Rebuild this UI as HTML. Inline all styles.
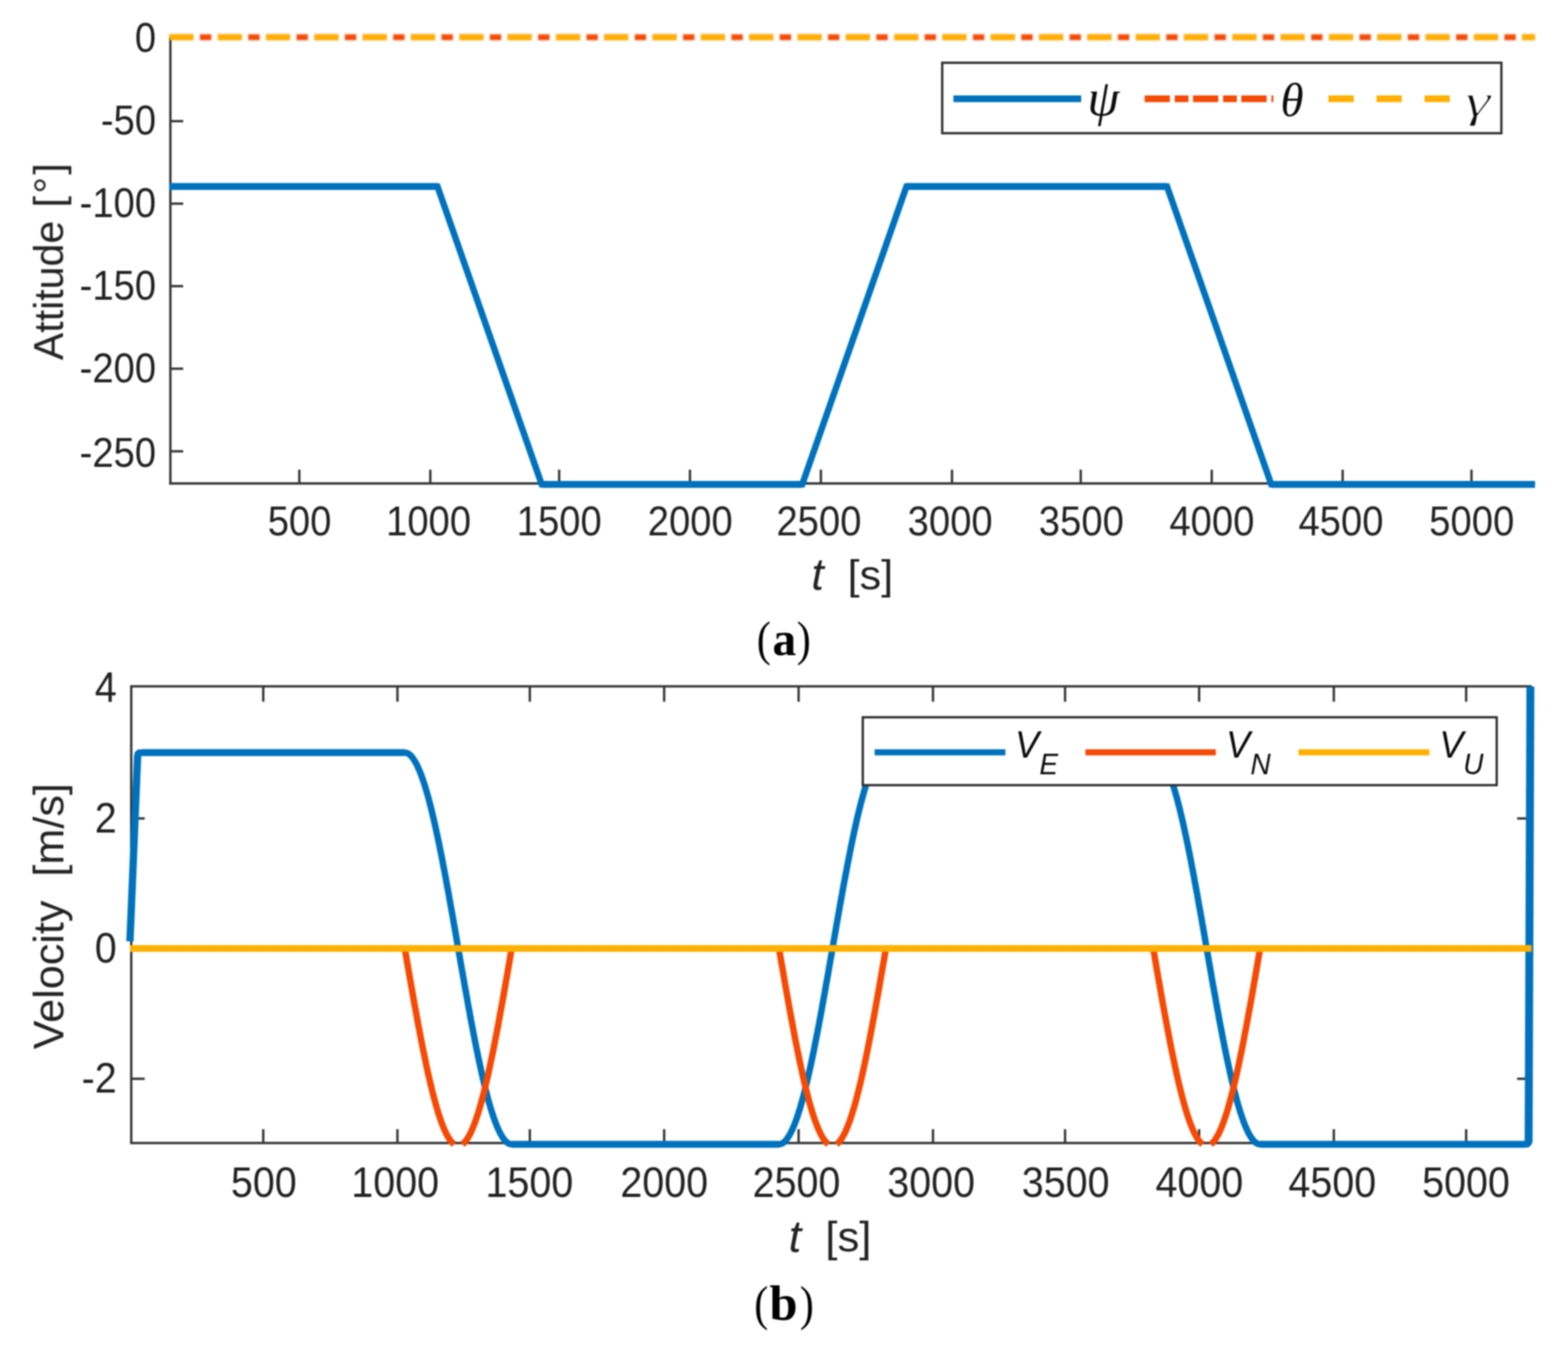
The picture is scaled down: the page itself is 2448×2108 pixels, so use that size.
<!DOCTYPE html>
<html lang="en"><head><meta charset="utf-8"><title>Attitude and velocity profiles</title>
<style>
html,body{margin:0;padding:0;background:#fff;}
body{width:2448px;height:2108px;overflow:hidden;}
svg{display:block;}
#fig{filter:blur(0.8px);}
</style></head>
<body>
<svg width="2448" height="2108" viewBox="0 0 2448 2108">
<rect x="0" y="0" width="2448" height="2108" fill="#ffffff"/>
<g id="fig">
<g id="chart-a">
<line x1="266.00" y1="58.00" x2="266.00" y2="756.75" stroke="#363636" stroke-width="3.7" />
<line x1="264.15" y1="754.90" x2="2396.30" y2="754.90" stroke="#363636" stroke-width="3.7" />
<text transform="translate(243.69,80.88) scale(0.9280,1)" font-family="'Liberation Sans', sans-serif" font-size="64.3" text-anchor="end" fill="#222222" >0</text>
<line x1="266.00" y1="189.20" x2="286.00" y2="189.20" stroke="#363636" stroke-width="3.7" />
<text transform="translate(243.69,210.48) scale(0.9280,1)" font-family="'Liberation Sans', sans-serif" font-size="64.3" text-anchor="end" fill="#222222" >-50</text>
<line x1="266.00" y1="318.00" x2="286.00" y2="318.00" stroke="#363636" stroke-width="3.7" />
<text transform="translate(243.69,338.58) scale(0.9280,1)" font-family="'Liberation Sans', sans-serif" font-size="64.3" text-anchor="end" fill="#222222" >-100</text>
<line x1="266.00" y1="446.80" x2="286.00" y2="446.80" stroke="#363636" stroke-width="3.7" />
<text transform="translate(243.69,468.48) scale(0.9280,1)" font-family="'Liberation Sans', sans-serif" font-size="64.3" text-anchor="end" fill="#222222" >-150</text>
<line x1="266.00" y1="575.70" x2="286.00" y2="575.70" stroke="#363636" stroke-width="3.7" />
<text transform="translate(243.69,596.88) scale(0.9280,1)" font-family="'Liberation Sans', sans-serif" font-size="64.3" text-anchor="end" fill="#222222" >-200</text>
<line x1="266.00" y1="704.70" x2="286.00" y2="704.70" stroke="#363636" stroke-width="3.7" />
<text transform="translate(243.69,728.78) scale(0.9280,1)" font-family="'Liberation Sans', sans-serif" font-size="64.3" text-anchor="end" fill="#222222" >-250</text>
<line x1="467.30" y1="754.90" x2="467.30" y2="733.40" stroke="#363636" stroke-width="3.7" />
<text transform="translate(467.70,836.38) scale(0.9280,1)" font-family="'Liberation Sans', sans-serif" font-size="64.3" text-anchor="middle" fill="#222222" >500</text>
<line x1="671.80" y1="754.90" x2="671.80" y2="733.40" stroke="#363636" stroke-width="3.7" />
<text transform="translate(669.10,836.38) scale(0.9280,1)" font-family="'Liberation Sans', sans-serif" font-size="64.3" text-anchor="middle" fill="#222222" >1000</text>
<line x1="873.00" y1="754.90" x2="873.00" y2="733.40" stroke="#363636" stroke-width="3.7" />
<text transform="translate(873.10,836.38) scale(0.9280,1)" font-family="'Liberation Sans', sans-serif" font-size="64.3" text-anchor="middle" fill="#222222" >1500</text>
<line x1="1077.20" y1="754.90" x2="1077.20" y2="733.40" stroke="#363636" stroke-width="3.7" />
<text transform="translate(1077.60,836.38) scale(0.9280,1)" font-family="'Liberation Sans', sans-serif" font-size="64.3" text-anchor="middle" fill="#222222" >2000</text>
<line x1="1281.60" y1="754.90" x2="1281.60" y2="733.40" stroke="#363636" stroke-width="3.7" />
<text transform="translate(1278.50,836.38) scale(0.9280,1)" font-family="'Liberation Sans', sans-serif" font-size="64.3" text-anchor="middle" fill="#222222" >2500</text>
<line x1="1486.30" y1="754.90" x2="1486.30" y2="733.40" stroke="#363636" stroke-width="3.7" />
<text transform="translate(1483.40,836.38) scale(0.9280,1)" font-family="'Liberation Sans', sans-serif" font-size="64.3" text-anchor="middle" fill="#222222" >3000</text>
<line x1="1687.30" y1="754.90" x2="1687.30" y2="733.40" stroke="#363636" stroke-width="3.7" />
<text transform="translate(1688.20,836.38) scale(0.9280,1)" font-family="'Liberation Sans', sans-serif" font-size="64.3" text-anchor="middle" fill="#222222" >3500</text>
<line x1="1891.80" y1="754.90" x2="1891.80" y2="733.40" stroke="#363636" stroke-width="3.7" />
<text transform="translate(1892.00,836.38) scale(0.9280,1)" font-family="'Liberation Sans', sans-serif" font-size="64.3" text-anchor="middle" fill="#222222" >4000</text>
<line x1="2096.20" y1="754.90" x2="2096.20" y2="733.40" stroke="#363636" stroke-width="3.7" />
<text transform="translate(2093.50,836.38) scale(0.9280,1)" font-family="'Liberation Sans', sans-serif" font-size="64.3" text-anchor="middle" fill="#222222" >4500</text>
<line x1="2297.30" y1="754.90" x2="2297.30" y2="733.40" stroke="#363636" stroke-width="3.7" />
<text transform="translate(2297.70,836.38) scale(0.9280,1)" font-family="'Liberation Sans', sans-serif" font-size="64.3" text-anchor="middle" fill="#222222" >5000</text>
<polyline fill="none" stroke="#0072BD" stroke-width="10.1" stroke-linejoin="miter"  points="264.0,291.2 683.0,291.2 845.7,756.3 1252.5,756.3 1415.2,291.2 1822.0,291.2 1984.7,756.3 2396.3,756.3"/>
<line x1="264.00" y1="291.16" x2="682.98" y2="291.16" stroke="#0072BD" stroke-width="10.7" />
<line x1="845.70" y1="756.28" x2="1252.48" y2="756.28" stroke="#0072BD" stroke-width="10.7" />
<line x1="1415.19" y1="291.16" x2="1821.97" y2="291.16" stroke="#0072BD" stroke-width="10.7" />
<line x1="1984.68" y1="756.28" x2="2396.30" y2="756.28" stroke="#0072BD" stroke-width="10.7" />
<g style="filter:blur(1.3px)">
<line x1="264.5" y1="58.1" x2="2396.3" y2="58.1" stroke="#F54A05" stroke-width="9.4" stroke-dasharray="37.6 10.0 17.8 10.03" stroke-dashoffset="0"/>
<line x1="264.5" y1="58.1" x2="2396.3" y2="58.1" stroke="#FFB000" stroke-width="9.4" stroke-dasharray="37.6 37.83"/>
</g>
<rect x="1471" y="98" width="873" height="110" fill="#fff" stroke="#2e2e2e" stroke-width="3.6"/>
<line x1="1488.50" y1="154.20" x2="1688.00" y2="154.20" stroke="#0072BD" stroke-width="10.4" />
<line x1="1787" y1="154.2" x2="1988" y2="154.2" stroke="#F54A05" stroke-width="10.4" stroke-dasharray="39.5 7.5 21.5 7"/>
<line x1="2074" y1="154.2" x2="2264" y2="154.2" stroke="#FFB000" stroke-width="10.4" stroke-dasharray="39.5 35.5"/>
<text transform="translate(1697.70,179.50)" font-family="'Liberation Serif', serif" font-size="80" font-style="italic" text-anchor="start" fill="#0c0c0c" >ψ</text>
<text transform="translate(1999.35,181.00)" font-family="'Liberation Serif', serif" font-size="73" font-style="italic" text-anchor="start" fill="#0c0c0c" >θ</text>
<text transform="translate(2287.18,181.80) scale(1.4000,1)" font-family="'Liberation Serif', serif" font-size="72" font-style="italic" text-anchor="start" fill="#0c0c0c" stroke="#fff" stroke-width="1.7" >γ</text>
<text transform="translate(98.3,344.6) rotate(-90)" font-family="'Liberation Sans', sans-serif" fill="#222222"><tspan x="-217.78" y="0.00" font-size="65.4" textLength="217.78" lengthAdjust="spacingAndGlyphs">Attitude</tspan><tspan x="-0.96" y="0.00" font-size="65.4" letter-spacing="3.4"> [°]</tspan></text>
<text font-family="'Liberation Sans', sans-serif" fill="#222222"><tspan x="1266.85" y="920.50" font-size="70" font-style="italic">t </tspan><tspan x="1323.28" y="920.00" font-size="65.4" textLength="71.11" lengthAdjust="spacingAndGlyphs">[s]</tspan></text>
<text font-family="'Liberation Serif', serif" fill="#000"><tspan x="1181.44" y="1023.00" font-size="75.5" textLength="21.87" lengthAdjust="spacingAndGlyphs">(</tspan><tspan x="1206.08" y="1022.60" font-size="74" font-weight="bold">a</tspan><tspan x="1244.03" y="1023.00" font-size="75.5" textLength="21.87" lengthAdjust="spacingAndGlyphs">)</tspan></text>
</g>
<g id="chart-b">
<rect x="204.9" y="1071.7" width="2184.7" height="713.0999999999999" fill="none" stroke="#363636" stroke-width="3.7"/>
<text transform="translate(182.26,1096.24) scale(0.9260,1)" font-family="'Liberation Sans', sans-serif" font-size="66.5" text-anchor="end" fill="#222222" >4</text>
<line x1="204.90" y1="1278.00" x2="225.90" y2="1278.00" stroke="#363636" stroke-width="3.7" />
<line x1="2389.60" y1="1278.00" x2="2368.60" y2="1278.00" stroke="#363636" stroke-width="3.7" />
<text transform="translate(182.26,1299.94) scale(0.9260,1)" font-family="'Liberation Sans', sans-serif" font-size="66.5" text-anchor="end" fill="#222222" >2</text>
<line x1="204.90" y1="1481.00" x2="225.90" y2="1481.00" stroke="#363636" stroke-width="3.7" />
<line x1="2389.60" y1="1481.00" x2="2368.60" y2="1481.00" stroke="#363636" stroke-width="3.7" />
<text transform="translate(182.26,1503.34) scale(0.9260,1)" font-family="'Liberation Sans', sans-serif" font-size="66.5" text-anchor="end" fill="#222222" >0</text>
<line x1="204.90" y1="1684.50" x2="225.90" y2="1684.50" stroke="#363636" stroke-width="3.7" />
<line x1="2389.60" y1="1684.50" x2="2368.60" y2="1684.50" stroke="#363636" stroke-width="3.7" />
<text transform="translate(182.26,1705.74) scale(0.9260,1)" font-family="'Liberation Sans', sans-serif" font-size="66.5" text-anchor="end" fill="#222222" >-2</text>
<line x1="411.00" y1="1784.80" x2="411.00" y2="1763.20" stroke="#363636" stroke-width="3.7" />
<line x1="411.00" y1="1071.70" x2="411.00" y2="1095.70" stroke="#363636" stroke-width="3.7" />
<text transform="translate(411.90,1868.54) scale(0.9260,1)" font-family="'Liberation Sans', sans-serif" font-size="66.5" text-anchor="middle" fill="#222222" >500</text>
<line x1="620.50" y1="1784.80" x2="620.50" y2="1763.20" stroke="#363636" stroke-width="3.7" />
<line x1="620.50" y1="1071.70" x2="620.50" y2="1095.70" stroke="#363636" stroke-width="3.7" />
<text transform="translate(616.90,1868.54) scale(0.9260,1)" font-family="'Liberation Sans', sans-serif" font-size="66.5" text-anchor="middle" fill="#222222" >1000</text>
<line x1="827.20" y1="1784.80" x2="827.20" y2="1763.20" stroke="#363636" stroke-width="3.7" />
<line x1="827.20" y1="1071.70" x2="827.20" y2="1095.70" stroke="#363636" stroke-width="3.7" />
<text transform="translate(826.50,1868.54) scale(0.9260,1)" font-family="'Liberation Sans', sans-serif" font-size="66.5" text-anchor="middle" fill="#222222" >1500</text>
<line x1="1036.90" y1="1784.80" x2="1036.90" y2="1763.20" stroke="#363636" stroke-width="3.7" />
<line x1="1036.90" y1="1071.70" x2="1036.90" y2="1095.70" stroke="#363636" stroke-width="3.7" />
<text transform="translate(1037.10,1868.54) scale(0.9260,1)" font-family="'Liberation Sans', sans-serif" font-size="66.5" text-anchor="middle" fill="#222222" >2000</text>
<line x1="1246.80" y1="1784.80" x2="1246.80" y2="1763.20" stroke="#363636" stroke-width="3.7" />
<line x1="1246.80" y1="1071.70" x2="1246.80" y2="1095.70" stroke="#363636" stroke-width="3.7" />
<text transform="translate(1243.50,1868.54) scale(0.9260,1)" font-family="'Liberation Sans', sans-serif" font-size="66.5" text-anchor="middle" fill="#222222" >2500</text>
<line x1="1456.60" y1="1784.80" x2="1456.60" y2="1763.20" stroke="#363636" stroke-width="3.7" />
<line x1="1456.60" y1="1071.70" x2="1456.60" y2="1095.70" stroke="#363636" stroke-width="3.7" />
<text transform="translate(1453.80,1868.54) scale(0.9260,1)" font-family="'Liberation Sans', sans-serif" font-size="66.5" text-anchor="middle" fill="#222222" >3000</text>
<line x1="1662.80" y1="1784.80" x2="1662.80" y2="1763.20" stroke="#363636" stroke-width="3.7" />
<line x1="1662.80" y1="1071.70" x2="1662.80" y2="1095.70" stroke="#363636" stroke-width="3.7" />
<text transform="translate(1663.70,1868.54) scale(0.9260,1)" font-family="'Liberation Sans', sans-serif" font-size="66.5" text-anchor="middle" fill="#222222" >3500</text>
<line x1="1872.10" y1="1784.80" x2="1872.10" y2="1763.20" stroke="#363636" stroke-width="3.7" />
<line x1="1872.10" y1="1071.70" x2="1872.10" y2="1095.70" stroke="#363636" stroke-width="3.7" />
<text transform="translate(1872.60,1868.54) scale(0.9260,1)" font-family="'Liberation Sans', sans-serif" font-size="66.5" text-anchor="middle" fill="#222222" >4000</text>
<line x1="2082.40" y1="1784.80" x2="2082.40" y2="1763.20" stroke="#363636" stroke-width="3.7" />
<line x1="2082.40" y1="1071.70" x2="2082.40" y2="1095.70" stroke="#363636" stroke-width="3.7" />
<text transform="translate(2079.90,1868.54) scale(0.9260,1)" font-family="'Liberation Sans', sans-serif" font-size="66.5" text-anchor="middle" fill="#222222" >4500</text>
<line x1="2289.00" y1="1784.80" x2="2289.00" y2="1763.20" stroke="#363636" stroke-width="3.7" />
<line x1="2289.00" y1="1071.70" x2="2289.00" y2="1095.70" stroke="#363636" stroke-width="3.7" />
<text transform="translate(2288.70,1868.54) scale(0.9260,1)" font-family="'Liberation Sans', sans-serif" font-size="66.5" text-anchor="middle" fill="#222222" >5000</text>
<polyline fill="none" stroke="#0072BD" stroke-width="10.1" stroke-linejoin="bevel"  points="202.9,1469.7 215.1,1175.2 631.9,1175.2 633.6,1175.4 635.3,1175.8 636.9,1176.6 638.6,1177.6 640.3,1179.0 642.0,1180.6 643.6,1182.6 645.3,1184.8 647.0,1187.4 648.6,1190.2 650.3,1193.3 652.0,1196.7 653.6,1200.4 655.3,1204.3 657.0,1208.5 658.6,1213.0 660.3,1217.8 662.0,1222.8 663.7,1228.1 665.3,1233.6 667.0,1239.4 668.7,1245.4 670.3,1251.6 672.0,1258.1 673.7,1264.8 675.3,1271.7 677.0,1278.8 678.7,1286.1 680.3,1293.6 682.0,1301.3 683.7,1309.1 685.4,1317.1 687.0,1325.3 688.7,1333.7 690.4,1342.2 692.0,1350.8 693.7,1359.6 695.4,1368.4 697.0,1377.4 698.7,1386.5 700.4,1395.7 702.0,1405.0 703.7,1414.3 705.4,1423.7 707.1,1433.2 708.7,1442.7 710.4,1452.2 712.1,1461.8 713.7,1471.4 715.4,1481.0 717.1,1490.6 718.7,1500.2 720.4,1509.8 722.1,1519.3 723.8,1528.8 725.4,1538.3 727.1,1547.7 728.8,1557.0 730.4,1566.3 732.1,1575.5 733.8,1584.6 735.4,1593.6 737.1,1602.4 738.8,1611.2 740.4,1619.8 742.1,1628.3 743.8,1636.7 745.5,1644.9 747.1,1652.9 748.8,1660.7 750.5,1668.4 752.1,1675.9 753.8,1683.2 755.5,1690.3 757.1,1697.2 758.8,1703.9 760.5,1710.4 762.1,1716.6 763.8,1722.6 765.5,1728.4 767.2,1733.9 768.8,1739.2 770.5,1744.2 772.2,1749.0 773.8,1753.5 775.5,1757.7 777.2,1761.6 778.8,1765.3 780.5,1768.7 782.2,1771.8 783.8,1774.6 785.5,1777.2 787.2,1779.4 788.9,1781.4 790.5,1783.0 792.2,1784.4 793.9,1785.4 795.5,1786.2 797.2,1786.6 798.9,1786.8 1216.2,1786.8 1217.9,1786.6 1219.5,1786.2 1221.2,1785.4 1222.9,1784.4 1224.5,1783.0 1226.2,1781.4 1227.9,1779.4 1229.5,1777.2 1231.2,1774.6 1232.9,1771.8 1234.5,1768.7 1236.2,1765.3 1237.9,1761.6 1239.6,1757.7 1241.2,1753.5 1242.9,1749.0 1244.6,1744.2 1246.2,1739.2 1247.9,1733.9 1249.6,1728.4 1251.2,1722.6 1252.9,1716.6 1254.6,1710.4 1256.3,1703.9 1257.9,1697.2 1259.6,1690.3 1261.3,1683.2 1262.9,1675.9 1264.6,1668.4 1266.3,1660.7 1267.9,1652.9 1269.6,1644.9 1271.3,1636.7 1272.9,1628.3 1274.6,1619.8 1276.3,1611.2 1278.0,1602.4 1279.6,1593.6 1281.3,1584.6 1283.0,1575.5 1284.6,1566.3 1286.3,1557.0 1288.0,1547.7 1289.6,1538.3 1291.3,1528.8 1293.0,1519.3 1294.6,1509.8 1296.3,1500.2 1298.0,1490.6 1299.7,1481.0 1301.3,1471.4 1303.0,1461.8 1304.7,1452.2 1306.3,1442.7 1308.0,1433.2 1309.7,1423.7 1311.3,1414.3 1313.0,1405.0 1314.7,1395.7 1316.3,1386.5 1318.0,1377.4 1319.7,1368.4 1321.4,1359.6 1323.0,1350.8 1324.7,1342.2 1326.4,1333.7 1328.0,1325.3 1329.7,1317.1 1331.4,1309.1 1333.0,1301.3 1334.7,1293.6 1336.4,1286.1 1338.0,1278.8 1339.7,1271.7 1341.4,1264.8 1343.1,1258.1 1344.7,1251.6 1346.4,1245.4 1348.1,1239.4 1349.7,1233.6 1351.4,1228.1 1353.1,1222.8 1354.7,1217.8 1356.4,1213.0 1358.1,1208.5 1359.7,1204.3 1361.4,1200.4 1363.1,1196.7 1364.8,1193.3 1366.4,1190.2 1368.1,1187.4 1369.8,1184.8 1371.4,1182.6 1373.1,1180.6 1374.8,1179.0 1376.4,1177.6 1378.1,1176.6 1379.8,1175.8 1381.4,1175.4 1383.1,1175.2 1800.4,1175.2 1802.1,1175.4 1803.8,1175.8 1805.4,1176.6 1807.1,1177.6 1808.8,1179.0 1810.5,1180.6 1812.1,1182.6 1813.8,1184.8 1815.5,1187.4 1817.1,1190.2 1818.8,1193.3 1820.5,1196.7 1822.1,1200.4 1823.8,1204.3 1825.5,1208.5 1827.1,1213.0 1828.8,1217.8 1830.5,1222.8 1832.2,1228.1 1833.8,1233.6 1835.5,1239.4 1837.2,1245.4 1838.8,1251.6 1840.5,1258.1 1842.2,1264.8 1843.8,1271.7 1845.5,1278.8 1847.2,1286.1 1848.8,1293.6 1850.5,1301.3 1852.2,1309.1 1853.9,1317.1 1855.5,1325.3 1857.2,1333.7 1858.9,1342.2 1860.5,1350.8 1862.2,1359.6 1863.9,1368.4 1865.5,1377.4 1867.2,1386.5 1868.9,1395.7 1870.5,1405.0 1872.2,1414.3 1873.9,1423.7 1875.6,1433.2 1877.2,1442.7 1878.9,1452.2 1880.6,1461.8 1882.2,1471.4 1883.9,1481.0 1885.6,1490.6 1887.2,1500.2 1888.9,1509.8 1890.6,1519.3 1892.2,1528.8 1893.9,1538.3 1895.6,1547.7 1897.3,1557.0 1898.9,1566.3 1900.6,1575.5 1902.3,1584.6 1903.9,1593.6 1905.6,1602.4 1907.3,1611.2 1908.9,1619.8 1910.6,1628.3 1912.3,1636.7 1913.9,1644.9 1915.6,1652.9 1917.3,1660.7 1919.0,1668.4 1920.6,1675.9 1922.3,1683.2 1924.0,1690.3 1925.6,1697.2 1927.3,1703.9 1929.0,1710.4 1930.6,1716.6 1932.3,1722.6 1934.0,1728.4 1935.6,1733.9 1937.3,1739.2 1939.0,1744.2 1940.7,1749.0 1942.3,1753.5 1944.0,1757.7 1945.7,1761.6 1947.3,1765.3 1949.0,1768.7 1950.7,1771.8 1952.3,1774.6 1954.0,1777.2 1955.7,1779.4 1957.3,1781.4 1959.0,1783.0 1960.7,1784.4 1962.4,1785.4 1964.0,1786.2 1965.7,1786.6 1967.4,1786.8 2386.5,1786.8 2389.3,1072.0"/>
<line x1="2386.50" y1="1783.79" x2="2389.30" y2="1072.00" stroke="#0072BD" stroke-width="12.4" />
<line x1="202.90" y1="1469.70" x2="214.90" y2="1179.21" stroke="#0072BD" stroke-width="11.4" />
<line x1="221.10" y1="1175.21" x2="631.94" y2="1175.21" stroke="#0072BD" stroke-width="10.7" />
<line x1="798.87" y1="1786.79" x2="1216.19" y2="1786.79" stroke="#0072BD" stroke-width="10.7" />
<line x1="1383.12" y1="1175.21" x2="1800.44" y2="1175.21" stroke="#0072BD" stroke-width="10.7" />
<line x1="1967.36" y1="1786.79" x2="2381.50" y2="1786.79" stroke="#0072BD" stroke-width="10.7" />
<polyline fill="none" stroke="#F54A05" stroke-width="10.1" stroke-linejoin="round"  points="631.9,1481.0 633.9,1492.2 635.8,1503.3 637.7,1514.4 639.6,1525.5 641.6,1536.5 643.5,1547.5 645.4,1558.3 647.3,1569.1 649.3,1579.7 651.2,1590.2 653.1,1600.6 655.1,1610.8 657.0,1620.9 658.9,1630.7 660.8,1640.4 662.8,1649.8 664.7,1659.0 666.6,1668.0 668.5,1676.8 670.5,1685.3 672.4,1693.5 674.3,1701.4 676.2,1709.1 678.2,1716.4 680.1,1723.5 682.0,1730.2 683.9,1736.6 685.9,1742.7 687.8,1748.4 689.7,1753.8 691.7,1758.8 693.6,1763.4 695.5,1767.7 697.4,1771.6 699.4,1775.1 701.3,1778.2 703.2,1781.0 705.1,1783.3 707.1,1785.2 709.0,1786.8"/>
<polyline fill="none" stroke="#F54A05" stroke-width="10.1" stroke-linejoin="round"  points="721.8,1786.8 723.7,1785.2 725.7,1783.3 727.6,1781.0 729.5,1778.2 731.5,1775.1 733.4,1771.6 735.3,1767.7 737.2,1763.4 739.2,1758.8 741.1,1753.8 743.0,1748.4 744.9,1742.7 746.9,1736.6 748.8,1730.2 750.7,1723.5 752.6,1716.4 754.6,1709.1 756.5,1701.4 758.4,1693.5 760.3,1685.3 762.3,1676.8 764.2,1668.0 766.1,1659.0 768.0,1649.8 770.0,1640.4 771.9,1630.7 773.8,1620.9 775.8,1610.8 777.7,1600.6 779.6,1590.2 781.5,1579.7 783.5,1569.1 785.4,1558.3 787.3,1547.5 789.2,1536.5 791.2,1525.5 793.1,1514.4 795.0,1503.3 796.9,1492.2 798.9,1481.0"/>
<polyline fill="none" stroke="#F54A05" stroke-width="10.1" stroke-linejoin="round"  points="1216.2,1481.0 1218.1,1492.2 1220.0,1503.3 1222.0,1514.4 1223.9,1525.5 1225.8,1536.5 1227.7,1547.5 1229.7,1558.3 1231.6,1569.1 1233.5,1579.7 1235.4,1590.2 1237.4,1600.6 1239.3,1610.8 1241.2,1620.9 1243.2,1630.7 1245.1,1640.4 1247.0,1649.8 1248.9,1659.0 1250.9,1668.0 1252.8,1676.8 1254.7,1685.3 1256.6,1693.5 1258.6,1701.4 1260.5,1709.1 1262.4,1716.4 1264.3,1723.5 1266.3,1730.2 1268.2,1736.6 1270.1,1742.7 1272.0,1748.4 1274.0,1753.8 1275.9,1758.8 1277.8,1763.4 1279.8,1767.7 1281.7,1771.6 1283.6,1775.1 1285.5,1778.2 1287.5,1781.0 1289.4,1783.3 1291.3,1785.2 1293.2,1786.8"/>
<polyline fill="none" stroke="#F54A05" stroke-width="10.1" stroke-linejoin="round"  points="1306.1,1786.8 1308.0,1785.2 1309.9,1783.3 1311.8,1781.0 1313.8,1778.2 1315.7,1775.1 1317.6,1771.6 1319.6,1767.7 1321.5,1763.4 1323.4,1758.8 1325.3,1753.8 1327.3,1748.4 1329.2,1742.7 1331.1,1736.6 1333.0,1730.2 1335.0,1723.5 1336.9,1716.4 1338.8,1709.1 1340.7,1701.4 1342.7,1693.5 1344.6,1685.3 1346.5,1676.8 1348.4,1668.0 1350.4,1659.0 1352.3,1649.8 1354.2,1640.4 1356.1,1630.7 1358.1,1620.9 1360.0,1610.8 1361.9,1600.6 1363.9,1590.2 1365.8,1579.7 1367.7,1569.1 1369.6,1558.3 1371.6,1547.5 1373.5,1536.5 1375.4,1525.5 1377.3,1514.4 1379.3,1503.3 1381.2,1492.2 1383.1,1481.0"/>
<polyline fill="none" stroke="#F54A05" stroke-width="10.1" stroke-linejoin="round"  points="1800.4,1481.0 1802.4,1492.2 1804.3,1503.3 1806.2,1514.4 1808.1,1525.5 1810.1,1536.5 1812.0,1547.5 1813.9,1558.3 1815.8,1569.1 1817.8,1579.7 1819.7,1590.2 1821.6,1600.6 1823.6,1610.8 1825.5,1620.9 1827.4,1630.7 1829.3,1640.4 1831.3,1649.8 1833.2,1659.0 1835.1,1668.0 1837.0,1676.8 1839.0,1685.3 1840.9,1693.5 1842.8,1701.4 1844.7,1709.1 1846.7,1716.4 1848.6,1723.5 1850.5,1730.2 1852.4,1736.6 1854.4,1742.7 1856.3,1748.4 1858.2,1753.8 1860.1,1758.8 1862.1,1763.4 1864.0,1767.7 1865.9,1771.6 1867.9,1775.1 1869.8,1778.2 1871.7,1781.0 1873.6,1783.3 1875.6,1785.2 1877.5,1786.8"/>
<polyline fill="none" stroke="#F54A05" stroke-width="10.1" stroke-linejoin="round"  points="1890.3,1786.8 1892.2,1785.2 1894.2,1783.3 1896.1,1781.0 1898.0,1778.2 1899.9,1775.1 1901.9,1771.6 1903.8,1767.7 1905.7,1763.4 1907.7,1758.8 1909.6,1753.8 1911.5,1748.4 1913.4,1742.7 1915.4,1736.6 1917.3,1730.2 1919.2,1723.5 1921.1,1716.4 1923.1,1709.1 1925.0,1701.4 1926.9,1693.5 1928.8,1685.3 1930.8,1676.8 1932.7,1668.0 1934.6,1659.0 1936.5,1649.8 1938.5,1640.4 1940.4,1630.7 1942.3,1620.9 1944.2,1610.8 1946.2,1600.6 1948.1,1590.2 1950.0,1579.7 1952.0,1569.1 1953.9,1558.3 1955.8,1547.5 1957.7,1536.5 1959.7,1525.5 1961.6,1514.4 1963.5,1503.3 1965.4,1492.2 1967.4,1481.0"/>
<line x1="203.00" y1="1481.00" x2="2391.00" y2="1481.00" stroke="#FFB000" stroke-width="10.7" />
<rect x="1347" y="1120" width="989.6999999999998" height="106" fill="#fff" stroke="#2e2e2e" stroke-width="3.6"/>
<line x1="1365.50" y1="1174.70" x2="1569.70" y2="1174.70" stroke="#0072BD" stroke-width="9.5" />
<line x1="1694.60" y1="1174.70" x2="1898.20" y2="1174.70" stroke="#F54A05" stroke-width="9.5" />
<line x1="2027.20" y1="1174.70" x2="2231.50" y2="1174.70" stroke="#FFB000" stroke-width="9.5" />
<text font-family="'Liberation Sans', sans-serif" fill="#0c0c0c"><tspan x="1584.84" y="1183.00" font-size="59" font-style="italic" textLength="37.39" lengthAdjust="spacingAndGlyphs">V</tspan><tspan x="1622.80" y="1209.30" font-size="46" font-style="italic" textLength="29.15" lengthAdjust="spacingAndGlyphs">E</tspan></text>
<text font-family="'Liberation Sans', sans-serif" fill="#0c0c0c"><tspan x="1914.24" y="1183.00" font-size="59" font-style="italic" textLength="37.39" lengthAdjust="spacingAndGlyphs">V</tspan><tspan x="1952.20" y="1209.30" font-size="46" font-style="italic" textLength="31.56" lengthAdjust="spacingAndGlyphs">N</tspan></text>
<text font-family="'Liberation Sans', sans-serif" fill="#0c0c0c"><tspan x="2247.24" y="1183.00" font-size="59" font-style="italic" textLength="37.39" lengthAdjust="spacingAndGlyphs">V</tspan><tspan x="2284.40" y="1209.30" font-size="46" font-style="italic" textLength="31.56" lengthAdjust="spacingAndGlyphs">U</tspan></text>
<text transform="translate(98.90,1430.60) rotate(-90) scale(1.0160,1)" font-family="'Liberation Sans', sans-serif" font-size="66.3" text-anchor="middle" fill="#222222" xml:space="preserve">Velocity  [m/s]</text>
<text font-family="'Liberation Sans', sans-serif" fill="#222222"><tspan x="1231.21" y="1954.50" font-size="71" font-style="italic">t </tspan><tspan x="1288.42" y="1954.00" font-size="66.3" textLength="72.09" lengthAdjust="spacingAndGlyphs">[s]</tspan></text>
<text font-family="'Liberation Serif', serif" fill="#000"><tspan x="1177.54" y="2061.00" font-size="75.5" textLength="21.87" lengthAdjust="spacingAndGlyphs">(</tspan><tspan x="1201.32" y="2061.00" font-size="79" font-weight="bold">b</tspan><tspan x="1248.83" y="2061.00" font-size="75.5" textLength="21.87" lengthAdjust="spacingAndGlyphs">)</tspan></text>
</g>
</g>
</svg>
</body></html>
